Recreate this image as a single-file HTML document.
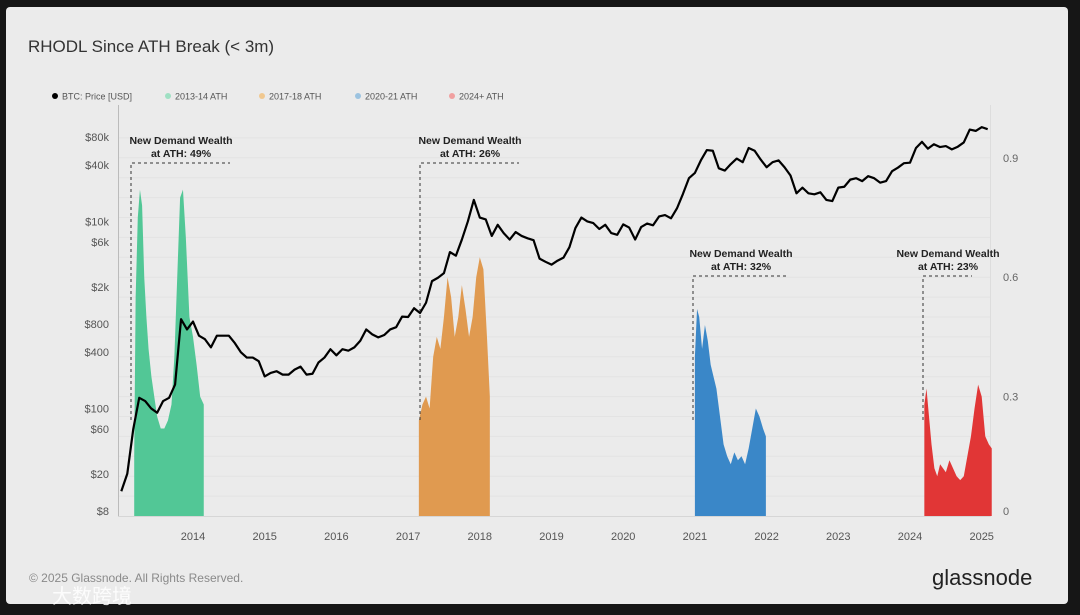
<!DOCTYPE html>
<html><head><meta charset="utf-8"><style>
html,body{margin:0;padding:0;background:#161616;}
body{width:1080px;height:615px;position:relative;overflow:hidden;font-family:"Liberation Sans","Noto Sans CJK SC",sans-serif;}
#panel{position:absolute;left:6px;top:7px;width:1062px;height:597px;background:#ebebeb;border-radius:4px;}
svg{position:absolute;left:0;top:0;}
</style></head><body>
<div id="panel"></div>
<svg id="chart" width="1080" height="615"></svg>
<script>
const years=[2014,2015,2016,2017,2018,2019,2020,2021,2022,2023,2024,2025];
const priceTicks=[80000,40000,10000,6000,2000,800,400,100,60,20,8];
const priceTickLabels=["$80k","$40k","$10k","$6k","$2k","$800","$400","$100","$60","$20","$8"];
const rTicks=[0.9,0.6,0.3,0];
const priceStart=2013.0;
const prices=[13,20,60,130,120,100,90,120,130,180,900,700,
850,600,550,450,600,600,600,500,400,350,350,320,
220,240,250,230,230,260,280,230,235,310,350,430,
370,430,415,450,530,700,620,575,610,700,740,960,
950,1180,1050,1350,2300,2500,2800,4700,4300,6400,10000,17000,
11000,10500,7000,9200,7500,6400,7700,7000,6600,6300,4000,3700,
3450,3800,4100,5300,8500,11000,10000,9600,8300,9200,7500,7200,
9300,8600,6400,8700,9500,9100,11300,11700,10800,13800,19700,29000,
33000,45000,58000,57000,37000,35000,41000,47000,43000,61000,57000,46000,
38000,43000,45000,38000,31000,20000,23000,20000,19500,20500,17000,16500,
23000,23500,28000,29000,27000,30500,29000,26000,27000,34500,37700,42000,
42500,61000,71000,60000,67000,62500,64000,59000,63000,70000,96000,93000,
102000,97000];
const greenDates=[2013.18,2013.2,2013.23,2013.26,2013.29,2013.32,2013.35,2013.38,2013.42,2013.46,2013.5,2013.55,2013.6,2013.65,2013.7,2013.74,2013.78,2013.82,2013.86,2013.9,2013.95,2014.0,2014.05,2014.1,2014.15];
const greenVals=[0.15,0.55,0.75,0.82,0.78,0.6,0.5,0.42,0.35,0.3,0.25,0.22,0.22,0.24,0.28,0.4,0.6,0.8,0.82,0.7,0.5,0.45,0.38,0.3,0.28];
const orangeDates=[2017.15,2017.2,2017.25,2017.3,2017.35,2017.4,2017.45,2017.5,2017.55,2017.6,2017.65,2017.7,2017.75,2017.8,2017.85,2017.9,2017.95,2018.0,2018.05,2018.1,2018.14];
const orangeVals=[0.24,0.28,0.3,0.27,0.4,0.45,0.42,0.5,0.6,0.55,0.45,0.5,0.58,0.52,0.45,0.5,0.6,0.65,0.62,0.45,0.3];
const blueDates=[2021.0,2021.03,2021.06,2021.1,2021.14,2021.18,2021.22,2021.26,2021.3,2021.35,2021.4,2021.45,2021.5,2021.55,2021.6,2021.65,2021.7,2021.75,2021.8,2021.85,2021.9,2021.95,2021.99];
const blueVals=[0.4,0.52,0.5,0.42,0.48,0.44,0.38,0.35,0.32,0.25,0.18,0.15,0.13,0.16,0.14,0.15,0.13,0.17,0.22,0.27,0.25,0.22,0.2];
const redDates=[2024.2,2024.23,2024.26,2024.3,2024.34,2024.38,2024.42,2024.46,2024.5,2024.55,2024.6,2024.65,2024.7,2024.75,2024.8,2024.85,2024.9,2024.95,2025.0,2025.05,2025.1,2025.14];
const redVals=[0.28,0.32,0.26,0.18,0.12,0.1,0.13,0.12,0.11,0.14,0.12,0.1,0.09,0.1,0.15,0.2,0.27,0.33,0.3,0.2,0.18,0.17];

const NS="http://www.w3.org/2000/svg";
const svg=document.getElementById('chart');
const X=d=>193+(d-2014)*71.7;
const YP=p=>511-(Math.log10(p)-Math.log10(8))*93.5;
const YR=v=>516-v*398;
function mk(tag,attrs,parent){const e=document.createElementNS(NS,tag);for(const k in attrs)e.setAttribute(k,attrs[k]);(parent||svg).appendChild(e);return e;}
function txt(s,x,y,attrs){const t=mk('text',Object.assign({x:x,y:y},attrs));t.textContent=s;return t;}

let t=txt("RHODL Since ATH Break (< 3m)",28,52,{"font-size":17,fill:"#333"});


const legend=[["BTC: Price [USD]","#000"],["2013-14 ATH","#9fe0c3"],["2017-18 ATH","#f0c890"],["2020-21 ATH","#9cc3e0"],["2024+ ATH","#f0a0a0"]];
const lx=[55,168,262,358,452];
legend.forEach((l,i)=>{const g=mk('g',{});


mk('circle',{cx:lx[i],cy:96,r:3,fill:l[1]},g);
const tt=mk('text',{x:lx[i]+7,y:99.5,"font-size":9,fill:"#555"},g);tt.textContent=l[0];});

for(let v=0.05;v<=0.96;v+=0.05){const gl=mk('line',{x1:118,x2:990,y1:YR(v),y2:YR(v),stroke:"#e3e3e3","stroke-width":1});

}
let ax=mk('line',{x1:118.5,x2:118.5,y1:105,y2:517,stroke:"#bbb"});


ax=mk('line',{x1:990.5,x2:990.5,y1:105,y2:517,stroke:"#ddd"});


ax=mk('line',{x1:118,x2:990,y1:516.5,y2:516.5,stroke:"#d6d6d6"});



priceTicks.forEach((p,i)=>{const e=txt(priceTickLabels[i],109,YP(p)+4,{"font-size":11,fill:"#555","text-anchor":"end"});

});
rTicks.forEach(v=>{const e=txt(String(v),1003,YR(v)+(v===0?-1:4),{"font-size":11,fill:"#666"});

});
years.forEach(y=>{const e=txt(String(y),X(y),540,{"font-size":11,fill:"#555","text-anchor":"middle"});

});

function area(dates,vals,color,name){let d=`M${X(dates[0])},${YR(0)}`;dates.forEach((dt,i)=>d+=`L${X(dt)},${YR(vals[i])}`);d+=`L${X(dates[dates.length-1])},${YR(0)}Z`;
const p=mk('path',{d:d,fill:color});

}
area(greenDates,greenVals,"#52c796","area-2013-14");
area(orangeDates,orangeVals,"#e09a50","area-2017-18");
area(blueDates,blueVals,"#3a87c8","area-2020-21");
area(redDates,redVals,"#e13636","area-2024");

let pd="";prices.forEach((p,i)=>{pd+=(i?"L":"M")+X(priceStart+i/12)+","+YP(p);});
const pl=mk('path',{d:pd,fill:"none",stroke:"#000","stroke-width":2.2,"stroke-linejoin":"round"});



const ann=[[131,163,230,181,"49%"],[420,163,519,470,"26%"],[693,276,789,741,"32%"],[923,276,972,948,"23%"]];
ann.forEach(a=>{const g=mk('g',{});


mk('path',{d:`M${a[0]},420V${a[1]}H${a[2]}`,fill:"none",stroke:"#333","stroke-width":1,"stroke-dasharray":"3,3"},g);
let t1=mk('text',{x:a[3],y:a[1]-19,"font-size":10.5,"font-weight":"bold",fill:"#222","text-anchor":"middle"},g);t1.textContent="New Demand Wealth";
let t2=mk('text',{x:a[3],y:a[1]-6,"font-size":10.5,"font-weight":"bold",fill:"#222","text-anchor":"middle"},g);t2.textContent="at ATH: "+a[4];});

t=txt("© 2025 Glassnode. All Rights Reserved.",29,582,{"font-size":12,fill:"#8a8a8a"});


t=txt("glassnode",932,585,{"font-size":22,fill:"#222"});


t=txt("大数跨境",52,603,{"font-size":20,fill:"#fff","fill-opacity":0.85});


</script>
</body></html>
